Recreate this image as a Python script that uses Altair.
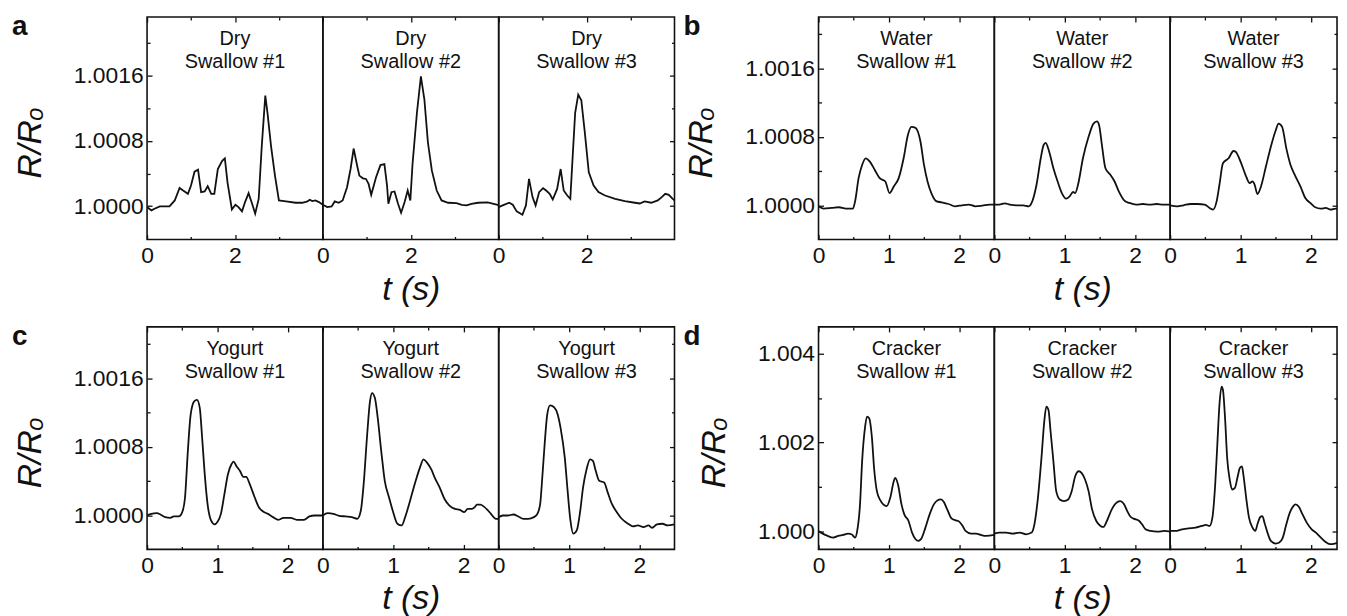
import altair as alt
import pandas as pd

FONT = "Liberation Sans"
INK = "#111111"

# ---- data: time t (s) and (R/Ro - 1) x 1e4 ----
DRY1_T = [0, 0.10, 0.17, 0.29, 0.51, 0.63, 0.74, 0.82, 0.93, 1.00, 1.08, 1.16, 1.23, 1.31, 1.38, 1.46, 1.53, 1.61, 1.71, 1.77, 1.83, 1.93, 2.01, 2.08, 2.16, 2.23, 2.31, 2.39, 2.46, 2.54, 2.61, 2.69, 2.74, 2.82, 2.91, 3.00, 3.16, 3.38, 3.53, 3.65, 3.70, 3.76, 3.83, 3.91, 4.00]
DRY1_V = [-0.12, -0.53, -0.33, -0.04, -0.04, 0.69, 2.23, 1.91, 1.50, 2.52, 4.22, 4.47, 1.71, 1.79, 2.44, 1.50, 1.50, 4.55, 5.56, 5.85, 2.92, -0.41, 0.16, -0.12, -0.65, 0.49, 1.58, 0.28, -0.93, 0.89, 7.39, 13.56, 11.45, 7.39, 3.74, 0.69, 0.57, 0.41, 0.41, 0.57, 0.77, 0.61, 0.69, 0.49, 0.16]
DRY2_T = [0, 0.10, 0.20, 0.27, 0.36, 0.45, 0.55, 0.63, 0.70, 0.78, 0.83, 0.91, 0.98, 1.04, 1.10, 1.21, 1.31, 1.40, 1.46, 1.49, 1.56, 1.63, 1.71, 1.78, 1.86, 1.93, 1.99, 2.04, 2.14, 2.23, 2.31, 2.39, 2.48, 2.59, 2.70, 2.85, 3.04, 3.16, 3.27, 3.38, 3.53, 3.75, 4.00]
DRY2_V = [0.16, -0.12, -0.04, 0.57, 0.41, 0.69, 2.31, 4.55, 7.06, 4.95, 3.74, 3.41, 3.33, 2.72, 1.38, 3.53, 5.03, 5.16, 2.52, 0.28, 1.71, 1.79, 0.28, -0.81, 0.49, 1.91, 0.69, 5.16, 11.45, 15.92, 13.07, 7.80, 4.35, 1.91, 0.69, 0.41, 0.37, 0.16, 0.08, 0.28, 0.41, 0.45, 0.12]
DRY3_T = [0, 0.09, 0.24, 0.32, 0.41, 0.54, 0.62, 0.69, 0.77, 0.84, 0.92, 1.01, 1.08, 1.16, 1.23, 1.33, 1.41, 1.48, 1.56, 1.63, 1.68, 1.74, 1.81, 1.88, 1.96, 2.05, 2.16, 2.27, 2.42, 2.65, 2.87, 3.10, 3.21, 3.32, 3.47, 3.62, 3.71, 3.79, 3.87, 3.96, 4.00]
DRY3_V = [-0.12, 0.08, 0.41, 0.16, -0.65, -1.06, 0.08, 3.33, 1.10, 0.08, 1.71, 2.19, 1.91, 1.50, 0.81, 2.11, 4.55, 1.91, 1.30, 0.89, 5.76, 11.45, 13.68, 12.99, 9.01, 4.14, 2.52, 1.71, 1.30, 0.89, 0.61, 0.41, 0.32, 0.57, 0.41, 0.69, 1.10, 1.50, 1.38, 0.89, 0.69]

WATER1_T = [0, 0.07, 0.19, 0.29, 0.39, 0.49, 0.52, 0.57, 0.62, 0.67, 0.73, 0.80, 0.87, 0.95, 1.01, 1.07, 1.14, 1.21, 1.27, 1.32, 1.38, 1.45, 1.50, 1.55, 1.61, 1.68, 1.75, 1.85, 1.94, 2.04, 2.14, 2.23, 2.33, 2.43, 2.50]
WATER1_V = [-0.12, -0.39, -0.31, -0.23, -0.39, -0.39, 0.46, 3.17, 4.71, 5.49, 5.10, 4.13, 3.17, 2.78, 1.43, 2.20, 3.17, 5.49, 8.19, 9.16, 9.04, 7.42, 4.71, 2.78, 1.31, 0.46, 0.35, 0.15, -0.12, 0.00, 0.08, -0.12, -0.04, 0.08, 0.08]
WATER2_T = [0, 0.07, 0.15, 0.22, 0.32, 0.41, 0.49, 0.53, 0.60, 0.66, 0.70, 0.73, 0.78, 0.84, 0.90, 0.96, 1.02, 1.07, 1.12, 1.15, 1.19, 1.26, 1.34, 1.41, 1.46, 1.49, 1.53, 1.58, 1.65, 1.71, 1.77, 1.85, 1.92, 2.02, 2.11, 2.21, 2.31, 2.40, 2.50]
WATER2_V = [0.08, 0.08, 0.23, 0.08, 0.00, 0.00, -0.12, 0.27, 2.40, 5.49, 7.03, 7.30, 6.26, 4.33, 2.78, 1.43, 0.77, 1.04, 1.55, 1.43, 2.40, 5.49, 8.00, 9.54, 9.81, 9.35, 7.03, 4.33, 3.56, 2.78, 1.62, 0.54, 0.27, 0.08, 0.15, 0.08, 0.15, 0.08, 0.08]
WATER3_T = [0, 0.10, 0.19, 0.29, 0.39, 0.49, 0.56, 0.61, 0.66, 0.70, 0.75, 0.83, 0.90, 0.93, 1.00, 1.07, 1.13, 1.17, 1.20, 1.24, 1.29, 1.36, 1.43, 1.50, 1.54, 1.59, 1.65, 1.71, 1.77, 1.85, 1.92, 1.99, 2.06, 2.14, 2.21, 2.28, 2.35, 2.40]
WATER3_V = [0.00, -0.12, 0.00, 0.15, 0.15, 0.08, -0.31, -0.50, 0.46, 2.40, 4.91, 5.49, 6.34, 6.26, 5.10, 3.56, 2.59, 2.78, 2.40, 1.31, 2.20, 4.52, 6.84, 8.77, 9.54, 9.16, 6.65, 4.71, 3.56, 2.20, 0.85, 0.27, -0.23, -0.39, -0.31, -0.50, -0.39, -0.50]

YOG1_T = [0, 0.06, 0.14, 0.19, 0.26, 0.33, 0.38, 0.45, 0.50, 0.54, 0.58, 0.62, 0.67, 0.71, 0.75, 0.78, 0.82, 0.86, 0.91, 0.96, 1.00, 1.05, 1.10, 1.15, 1.20, 1.23, 1.27, 1.32, 1.37, 1.41, 1.46, 1.53, 1.59, 1.65, 1.72, 1.79, 1.87, 1.94, 2.04, 2.13, 2.23, 2.31, 2.38, 2.50]
YOG1_V = [-0.04, 0.15, 0.23, 0.08, -0.23, -0.31, -0.15, -0.15, 0.35, 2.09, 7.49, 11.74, 13.29, 13.48, 12.52, 9.43, 4.79, 1.31, -0.62, -1.08, -0.81, 0.15, 2.47, 4.79, 5.95, 6.26, 5.76, 5.18, 4.48, 4.48, 3.63, 2.09, 0.93, 0.43, 0.15, -0.23, -0.54, -0.31, -0.31, -0.54, -0.54, -0.15, -0.04, -0.04]
YOG2_T = [0, 0.07, 0.15, 0.22, 0.32, 0.41, 0.49, 0.54, 0.58, 0.63, 0.67, 0.70, 0.74, 0.78, 0.83, 0.88, 0.94, 1.00, 1.06, 1.12, 1.17, 1.24, 1.32, 1.38, 1.43, 1.48, 1.54, 1.59, 1.66, 1.73, 1.80, 1.88, 1.95, 2.01, 2.06, 2.12, 2.16, 2.19, 2.24, 2.29, 2.34, 2.39, 2.46, 2.50]
YOG2_V = [-0.04, 0.23, 0.15, -0.04, -0.15, -0.23, -0.42, 0.54, 3.63, 9.43, 13.29, 14.26, 13.68, 11.36, 7.49, 4.02, 2.09, 0.35, -1.00, -1.20, -0.23, 1.70, 4.02, 5.56, 6.53, 6.14, 5.37, 4.40, 3.25, 1.89, 1.12, 0.73, 0.62, 0.35, 0.73, 0.73, 0.93, 1.24, 1.24, 1.00, 0.62, 0.15, -0.42, -0.42]
YOG3_T = [0, 0.06, 0.13, 0.21, 0.28, 0.35, 0.42, 0.50, 0.55, 0.59, 0.62, 0.65, 0.69, 0.73, 0.79, 0.84, 0.88, 0.94, 0.98, 1.02, 1.06, 1.11, 1.16, 1.20, 1.25, 1.30, 1.34, 1.38, 1.43, 1.50, 1.55, 1.61, 1.68, 1.75, 1.84, 1.91, 1.98, 2.06, 2.13, 2.18, 2.25, 2.33, 2.40, 2.50]
YOG3_V = [-0.23, -0.04, -0.04, 0.08, -0.15, -0.42, -0.42, -0.23, 0.15, 1.31, 4.40, 7.88, 11.74, 12.83, 12.59, 11.74, 10.20, 6.72, 2.86, -0.62, -2.16, -1.78, 0.54, 3.25, 5.37, 6.53, 6.34, 5.18, 4.02, 3.82, 2.67, 1.31, 0.35, -0.42, -1.00, -1.31, -1.20, -1.39, -1.20, -1.47, -1.08, -1.00, -1.20, -1.08]

CRK1_T = [0, 0.06, 0.13, 0.21, 0.28, 0.35, 0.42, 0.47, 0.52, 0.55, 0.59, 0.62, 0.66, 0.69, 0.72, 0.76, 0.79, 0.83, 0.88, 0.92, 0.97, 1.02, 1.07, 1.09, 1.13, 1.18, 1.22, 1.28, 1.33, 1.38, 1.42, 1.47, 1.52, 1.58, 1.64, 1.69, 1.74, 1.78, 1.83, 1.89, 1.95, 2.00, 2.05, 2.09, 2.17, 2.24, 2.31, 2.38, 2.50]
CRK1_V = [0.15, -0.45, -0.97, -1.34, -0.97, -0.75, -0.45, -0.60, -1.34, 0.15, 6.11, 15.79, 23.24, 25.85, 25.48, 21.01, 14.30, 9.09, 7.00, 6.11, 5.74, 7.60, 11.32, 12.07, 10.58, 6.11, 3.87, 2.38, -0.22, -1.71, -2.09, -1.34, 0.89, 3.87, 6.11, 7.00, 7.23, 6.71, 4.99, 2.98, 2.53, 2.24, 1.27, 0.15, -0.45, -0.45, -0.75, -0.97, -0.75]
CRK2_T = [0, 0.07, 0.17, 0.26, 0.36, 0.45, 0.53, 0.57, 0.62, 0.67, 0.71, 0.74, 0.77, 0.80, 0.84, 0.88, 0.93, 0.99, 1.05, 1.10, 1.15, 1.20, 1.24, 1.29, 1.34, 1.39, 1.45, 1.51, 1.55, 1.60, 1.67, 1.75, 1.79, 1.84, 1.89, 1.94, 1.98, 2.06, 2.10, 2.15, 2.22, 2.32, 2.42, 2.50]
CRK2_V = [-0.45, -0.22, -0.22, -0.45, -0.22, -0.60, -0.22, 1.64, 7.60, 16.54, 24.73, 28.09, 27.34, 22.50, 15.79, 9.09, 7.23, 6.86, 7.23, 9.09, 12.44, 13.56, 13.19, 11.70, 9.09, 4.99, 2.38, 1.27, 1.04, 2.38, 4.99, 6.63, 6.86, 6.26, 4.62, 3.28, 2.91, 2.38, 1.64, 0.52, 0.15, 0.00, 0.15, 0.00]
CRK3_T = [0, 0.07, 0.17, 0.26, 0.36, 0.45, 0.51, 0.56, 0.60, 0.64, 0.67, 0.70, 0.73, 0.75, 0.78, 0.81, 0.85, 0.88, 0.92, 0.96, 0.99, 1.02, 1.04, 1.08, 1.12, 1.17, 1.21, 1.24, 1.28, 1.31, 1.34, 1.39, 1.43, 1.50, 1.55, 1.60, 1.65, 1.70, 1.75, 1.78, 1.83, 1.88, 1.94, 2.01, 2.07, 2.13, 2.20, 2.27, 2.34, 2.39]
CRK3_V = [0.15, 0.15, 0.52, 0.75, 0.89, 1.27, 1.49, 1.27, 3.13, 10.58, 19.52, 28.46, 32.56, 31.81, 25.48, 16.54, 11.32, 9.46, 9.83, 12.44, 14.30, 14.68, 12.81, 7.60, 3.13, 0.89, 0.15, 1.64, 3.28, 3.50, 2.01, -0.60, -2.09, -2.68, -2.46, -1.34, 1.64, 4.25, 5.74, 6.11, 5.51, 3.87, 2.01, 0.52, -0.22, -1.19, -2.24, -2.83, -2.68, -2.46]

FOODS = ["Dry", "Water", "Yogurt", "Cracker"]
LETTERS = ["a", "b", "c", "d"]
CURVES = [
    [(DRY1_T, DRY1_V), (DRY2_T, DRY2_V), (DRY3_T, DRY3_V)],
    [(WATER1_T, WATER1_V), (WATER2_T, WATER2_V), (WATER3_T, WATER3_V)],
    [(YOG1_T, YOG1_V), (YOG2_T, YOG2_V), (YOG3_T, YOG3_V)],
    [(CRK1_T, CRK1_V), (CRK2_T, CRK2_V), (CRK3_T, CRK3_V)],
]
X_MAJOR = [[0, 2], [0, 1, 2], [0, 1, 2], [0, 1, 2]]
X_MINOR = [[1, 3], [0.5, 1.5], [0.5, 1.5], [0.5, 1.5]]
X_MAX = [[4, 4, 4], [2.5, 2.5, 2.37], [2.5, 2.5, 2.5], [2.5, 2.5, 2.37]]
Y_DOMAIN = [[0.99959, 1.00232], [0.9996, 1.0022], [0.9996, 1.0022], [0.9996, 1.0046]]
Y_MAJOR = [[1.0, 1.0008, 1.0016], [1.0, 1.0008, 1.0016], [1.0, 1.0008, 1.0016], [1.0, 1.002, 1.004]]
Y_MINOR = [[1.0004, 1.0012, 1.002], [1.0004, 1.0012, 1.002], [1.0004, 1.0012, 1.002], [1.001, 1.003]]
Y_FORMAT = [".4f", ".4f", ".4f", ".3f"]
INTERP = ["linear", "monotone", "monotone", "monotone"]

# ---- layout ----
H = 224
CELL_W = [[177, 177, 177], [177, 177, 168], [177, 177, 177], [177, 177, 168]]
LEFT_SPACER = 136
MID_SPACER = 145
MAJ, MIN = 5, 3


def axis(orient, values, size, labels=False, fmt="d", title="", title_pad=5, title_y=None):
    kw = dict(orient=orient, values=values, tickSize=size, offset=-size, domain=False,
              grid=False, ticks=True, tickColor=INK, tickWidth=1.3, labels=labels,
              labelFlush=False, title=title)
    if labels:
        kw.update(format=fmt, labelFont=FONT, labelFontSize=23, labelColor=INK,
                  labelPadding=5 if orient == "bottom" else 4, labelOverlap=False)
    if title:
        kw.update(titleFont=FONT, titleFontSize=34, titleColor=INK, titleFontWeight="normal",
                  titleFontStyle="italic", titlePadding=title_pad)
        if title_y is not None:
            kw.update(titleY=title_y)
    return alt.Axis(**kw)


def cell(p, i):
    t, v = CURVES[p][i]
    df = pd.DataFrame({"t": t, "r": [1 + x * 1e-4 for x in v]})
    xs = alt.Scale(domain=[0, X_MAX[p][i]], nice=False, zero=False)
    ys = alt.Scale(domain=Y_DOMAIN[p], nice=False, zero=False)
    first, middle, last = i == 0, i == 1, i == 2
    base = alt.Chart(df)
    X = lambda ax: alt.X("t:Q", scale=xs, axis=ax)
    Y = lambda ax: alt.Y("r:Q", scale=ys, axis=ax)

    line = base.mark_line(color=INK, strokeWidth=1.8, clip=True, interpolate=INTERP[p]).encode(
        x=X(axis("bottom", X_MAJOR[p], MAJ, labels=True, fmt="d",
                 title="t (s)" if middle else "", title_pad=5)),
        y=Y(axis("left", Y_MAJOR[p], MAJ, labels=True, fmt=Y_FORMAT[p], title="R/Rₒ",
                 title_pad=26, title_y=126) if first else None),
    )
    g2 = base.mark_line(strokeOpacity=0, clip=True).encode(
        x=X(axis("bottom", X_MINOR[p], MIN)),
        y=Y(axis("left", Y_MINOR[p], MIN) if first else None),
    )
    g3 = base.mark_line(strokeOpacity=0, clip=True).encode(
        x=X(axis("top", X_MAJOR[p], MAJ)),
        y=Y(axis("right", Y_MAJOR[p], MAJ) if last else None),
    )
    g4 = base.mark_line(strokeOpacity=0, clip=True).encode(
        x=X(axis("top", X_MINOR[p], MIN)),
        y=Y(axis("right", Y_MINOR[p], MIN) if last else None),
    )
    return alt.layer(line, g2, g3, g4).resolve_axis(x="independent", y="independent").properties(
        width=CELL_W[p][i], height=H,
        title=alt.TitleParams(text=[FOODS[p], f"Swallow #{i + 1}"], orient="top", anchor="middle",
                              frame="group", offset=0, dy=56, fontSize=20, font=FONT,
                              fontWeight="normal", color=INK, lineHeight=23, baseline="top"),
    )


def spacer(width, letter, dx):
    df = pd.DataFrame({"t": [0.0]})
    return alt.Chart(df).mark_point(opacity=0).encode(
        x=alt.X("t:Q", axis=None), y=alt.Y("t:Q", axis=None)
    ).properties(
        width=width, height=H, view=alt.ViewBackground(stroke="transparent"),
        title=alt.TitleParams(text=letter, orient="top", anchor="start", frame="group", offset=0,
                              dx=dx, dy=24, fontSize=28, fontWeight="bold", font=FONT,
                              color=INK, baseline="top"),
    )


cells = []
for row in range(2):
    pl, pr = row * 2, row * 2 + 1
    cells.append(spacer(LEFT_SPACER, LETTERS[pl], 0))
    cells += [cell(pl, i) for i in range(3)]
    cells.append(spacer(MID_SPACER, LETTERS[pr], 9))
    cells += [cell(pr, i) for i in range(3)]

chart = alt.concat(*cells, columns=8, spacing={"row": 88, "column": 0}, bounds="flush", align="each").properties(
    padding={"left": 3, "top": 2, "right": 0, "bottom": 0}
).configure(font=FONT).configure_view(stroke=INK, strokeWidth=1.6)

chart.save("out.html", embed_options={"renderer": "svg", "actions": False})
